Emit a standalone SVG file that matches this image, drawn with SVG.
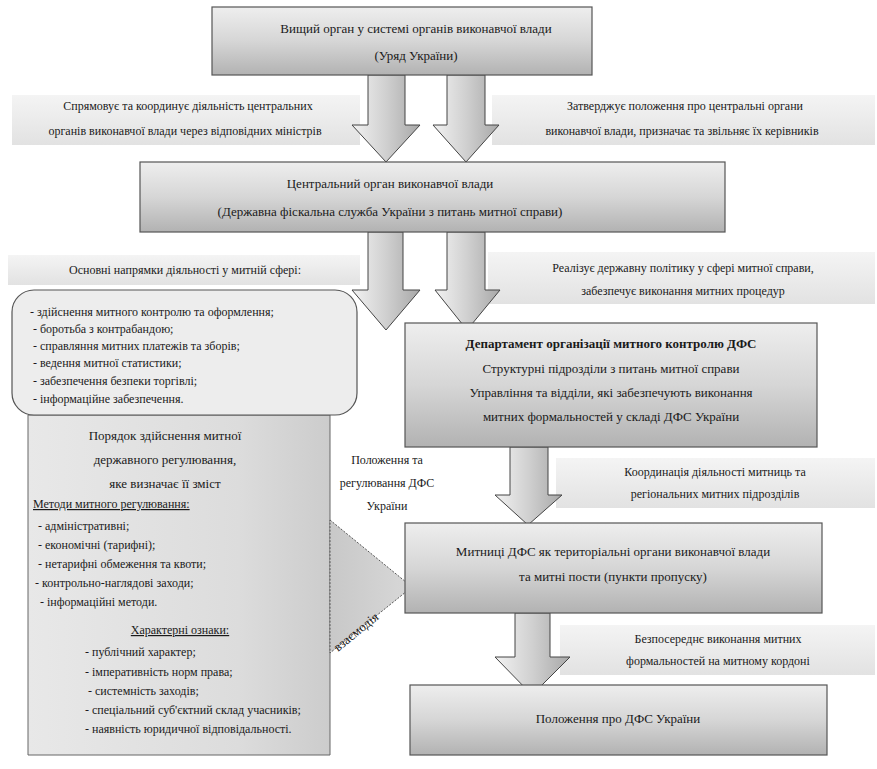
<svg xmlns="http://www.w3.org/2000/svg" width="877" height="769" viewBox="0 0 877 769" font-family="'Liberation Serif', 'Times New Roman', serif">
<defs>
<linearGradient id="gBox" x1="0" y1="0" x2="0" y2="1">
<stop offset="0" stop-color="#eeeeee"/><stop offset="0.5" stop-color="#d6d6d6"/><stop offset="1" stop-color="#b2b2b2"/>
</linearGradient>
<linearGradient id="gArr" x1="0" y1="0" x2="1" y2="0">
<stop offset="0" stop-color="#f2f2f2"/><stop offset="0.5" stop-color="#d0d0d0"/><stop offset="1" stop-color="#a8a8a8"/>
</linearGradient>
<linearGradient id="gPanel" x1="0" y1="0" x2="1" y2="0">
<stop offset="0" stop-color="#e8e8e8"/><stop offset="0.7" stop-color="#dcdcdc"/><stop offset="1" stop-color="#cccccc"/>
</linearGradient>
<linearGradient id="gTri" x1="0" y1="0" x2="1" y2="0">
<stop offset="0" stop-color="#c8c8c8"/><stop offset="1" stop-color="#d8d8d8"/>
</linearGradient>
<linearGradient id="gBand" x1="0" y1="0" x2="0" y2="1">
<stop offset="0" stop-color="#f4f4f4"/><stop offset="1" stop-color="#e2e2e2"/>
</linearGradient>
</defs>
<style>
.box{fill:url(#gBox);stroke:#555;stroke-width:1.2}
.arr{fill:url(#gArr);stroke:#444;stroke-width:1}
.band{fill:url(#gBand);stroke:none}
text{font-family:"Liberation Serif","Times New Roman",serif;fill:#1a1a1a;font-size:13px}
.c{text-anchor:middle}
.s{font-size:12px}
.b{font-weight:bold}
</style>
<rect width="877" height="769" fill="#ffffff"/>

<g id="bands">
<rect class="band" x="12" y="95" width="348" height="50"/>
<rect class="band" x="492" y="95" width="383" height="50"/>
<rect class="band" x="8" y="255" width="352" height="30"/>
<rect class="band" x="488" y="252" width="387" height="52"/>
<rect class="band" x="556" y="458" width="319" height="50"/>
<rect class="band" x="560" y="625" width="315" height="50"/>
</g>

<g id="connectors">
<polygon class="arr" points="368,75 405,75 405,125 420,125 386,162 352,125 368,125"/>
<polygon class="arr" points="447,75 485,75 485,125 499,125 466,162 433,125 447,125"/>
<polygon class="arr" points="368,232 403,232 403,290 420,290 386,330 352,290 368,290"/>
<polygon class="arr" points="447,232 485,232 485,290 500,290 467,330 435,290 447,290"/>
<polygon class="arr" points="510,447 548,447 548,495 562,495 528,525 495,495 510,495"/>
<polygon class="arr" points="515,613 550,613 550,657 570,657 532,695 495,657 515,657"/>
</g>

<g id="top">
<rect class="box" x="212" y="7" width="380" height="68"/>
<text class="c" x="416" y="33">Вищий орган у системі органів виконавчої влади</text>
<text class="c" x="416" y="60">(Уряд України)</text>
</g>

<g id="t2left">
<text class="c s" x="188" y="110">Спрямовує та координує діяльність центральних</text>
<text class="c s" x="185" y="135">органів виконавчої влади через відповідних міністрів</text>
</g>
<g id="t2right">
<text class="c s" x="685" y="110">Затверджує положення про центральні органи</text>
<text class="c s" x="682" y="135">виконавчої влади, призначає та звільняє їх керівників</text>
</g>

<g id="middle">
<rect class="box" x="140" y="162" width="585" height="70"/>
<text class="c" x="390" y="188">Центральний орган виконавчої влади</text>
<text class="c" x="390" y="216">(Державна фіскальна служба України з питань митної справи)</text>
</g>

<g id="t3left">
<text class="c s" x="185" y="274">Основні напрямки діяльності у митній сфері:</text>
</g>
<g id="t3right">
<text class="c s" x="683" y="272">Реалізує державну політику у сфері митної справи,</text>
<text class="c s" x="683" y="295">забезпечує виконання митних процедур</text>
</g>

<g id="panel">
<polygon points="28,415 330,415 330,755 28,755" fill="url(#gPanel)" stroke="#666" stroke-width="1"/>
<polygon points="330,520 412,587 330,653" fill="url(#gTri)" stroke="#555" stroke-width="1" stroke-dasharray="2,1.5"/>
<text class="c" x="165" y="440">Порядок здійснення митної</text>
<text class="c" x="165" y="464">державного регулювання,</text>
<text class="c" x="165" y="488">яке визначає її зміст</text>
<text class="s" x="33" y="508" text-decoration="underline">Методи митного регулювання:</text>
<text class="s" x="38" y="530">- адміністративні;</text>
<text class="s" x="38" y="549">- економічні (тарифні);</text>
<text class="s" x="38" y="568">- нетарифні обмеження та квоти;</text>
<text class="s" x="35" y="587">- контрольно-наглядові заходи;</text>
<text class="s" x="40" y="606">- інформаційні методи.</text>
<text class="c s" x="180" y="634" text-decoration="underline">Характерні ознаки:</text>
<text class="s" x="85" y="656">- публічний характер;</text>
<text class="s" x="85" y="676">- імперативність норм права;</text>
<text class="s" x="88" y="695">- системність заходів;</text>
<text class="s" x="85" y="714">- спеціальний суб'єктний склад учасників;</text>
<text class="s" x="85" y="733">- наявність юридичної відповідальності.</text>
<text class="c s" x="387" y="464">Положення та</text>
<text class="c s" x="387" y="487">регулювання ДФС</text>
<text class="c s" x="387" y="510">України</text>
<text x="0" y="0" font-size="9" transform="translate(338,652) rotate(-39)">взаємодія</text>
</g>

<g id="rounded">
<rect x="12" y="290" width="345" height="125" rx="22" ry="22" fill="#ededed" stroke="#555" stroke-width="1.2"/>
<text class="s" x="30" y="316">- здійснення митного контролю та оформлення;</text>
<text class="s" x="33" y="333">- боротьба з контрабандою;</text>
<text class="s" x="33" y="350">- справляння митних платежів та зборів;</text>
<text class="s" x="33" y="367">- ведення митної статистики;</text>
<text class="s" x="33" y="385">- забезпечення безпеки торгівлі;</text>
<text class="s" x="33" y="403">- інформаційне забезпечення.</text>
</g>

<g id="box1">
<rect class="box" x="405" y="323" width="412" height="124"/>
<text class="c b" x="611" y="348">Департамент організації митного контролю ДФС</text>
<text class="c" x="611" y="373">Структурні підрозділи з питань митної справи</text>
<text class="c" x="611" y="397">Управління та відділи, які забезпечують виконання</text>
<text class="c" x="611" y="421">митних формальностей у складі ДФС України</text>
</g>

<g id="t4right">
<text class="c s" x="715" y="476">Координація діяльності митниць та</text>
<text class="c s" x="715" y="498">регіональних митних підрозділів</text>
</g>

<g id="box2">
<rect class="box" x="405" y="523" width="417" height="90"/>
<text class="c" x="613" y="556">Митниці ДФС як територіальні органи виконавчої влади</text>
<text class="c" x="613" y="581">та митні пости (пункти пропуску)</text>
</g>

<g id="t5right">
<text class="c s" x="718" y="643">Безпосереднє виконання митних</text>
<text class="c s" x="718" y="665">формальностей на митному кордоні</text>
</g>

<g id="box3">
<rect class="box" x="410" y="685" width="417" height="70"/>
<text class="c" x="618" y="723" font-size="14">Положення про ДФС України</text>
</g>
</svg>
